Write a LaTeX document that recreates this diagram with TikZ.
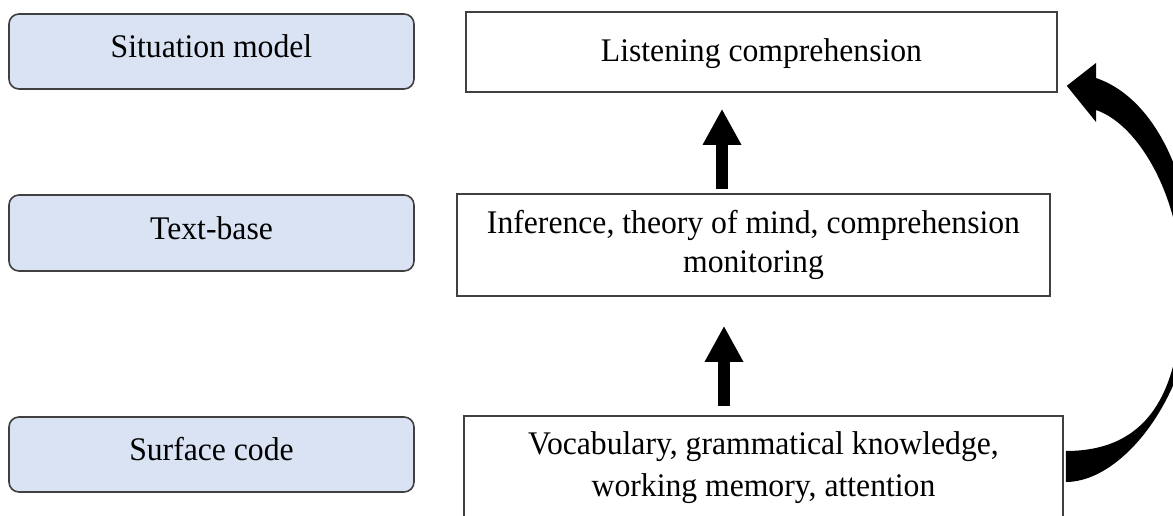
\documentclass[tikz,border=0pt]{standalone}
\usepackage{fontspec}
\setmainfont[FakeStretch=0.96]{Liberation Serif}
\usetikzlibrary{arrows.meta}
\definecolor{lblue}{HTML}{DAE3F3}
\definecolor{edgegray}{HTML}{404040}
\begin{document}
\begin{tikzpicture}[x=1pt,y=-1pt,
  lvl/.style={draw=edgegray, line width=1.6pt, fill=lblue, rounded corners=10pt,
    minimum width=405pt, minimum height=75pt, inner sep=0pt,
    font=\fontsize{33}{39}\selectfont, text height=22pt, text depth=10pt},
  stage/.style={draw=edgegray, line width=1.6pt, fill=white, inner sep=0pt, align=center},
  uparrow/.style={line width=12pt, -{Triangle[width=36pt,length=36pt]}},
  bigcurve/.style={fill=black},
]
\useasboundingbox (0,0) rectangle (1173,516);

% left level boxes
\node[lvl] (sm) at (211.5,51.5) {Situation model};
\node[lvl, minimum height=76pt] (tb) at (211.5,233) {Text-base};
\node[lvl] (sc) at (211.5,454.5) {Surface code};

% right stage boxes
\node[stage, minimum width=591pt, minimum height=80pt,
  font=\fontsize{33}{39}\selectfont, text height=22pt, text depth=2pt]
  (lc) at (761.5,52) {Listening comprehension};
\node[stage, minimum width=593pt, minimum height=102pt,
  font=\fontsize{33}{39}\selectfont]
  (inf) at (753.5,245) {Inference, theory of mind, comprehension\\monitoring};
\node[stage, minimum width=599pt, minimum height=103pt,
  font=\fontsize{33}{42}\selectfont]
  (voc) at (763.5,467.5) {Vocabulary, grammatical knowledge,\\working memory, attention};

% straight arrows
\draw[uparrow] ([xshift=-31.5pt,yshift=4pt]inf.north) -- ([xshift=-39.5pt,yshift=-16pt]lc.south);
\draw[uparrow] ([xshift=-39.5pt,yshift=9pt]voc.north) -- ([xshift=-29.5pt,yshift=-29pt]inf.south);

% curved feedback arrow (filled band with head)
\coordinate (cs1) at ([xshift=2pt,yshift=16.5pt]voc.east);
\coordinate (cs2) at ([xshift=2pt,yshift=-14.5pt]voc.east);
\coordinate (tip) at ([xshift=9pt,yshift=7pt]lc.south east);
\fill[bigcurve] (cs1) -- (cs2)
  .. controls (1125,482) and (1195,390) .. (1195,282)
  .. controls (1195,190) and (1160,100) .. (1096,78)
  -- (1096,63) -- (tip) -- (1096,122) -- (1096,110)
  .. controls (1140,125) and (1182,200) .. (1182,285)
  .. controls (1182,390) and (1150,451) .. (cs1) -- cycle;
\end{tikzpicture}
\end{document}
